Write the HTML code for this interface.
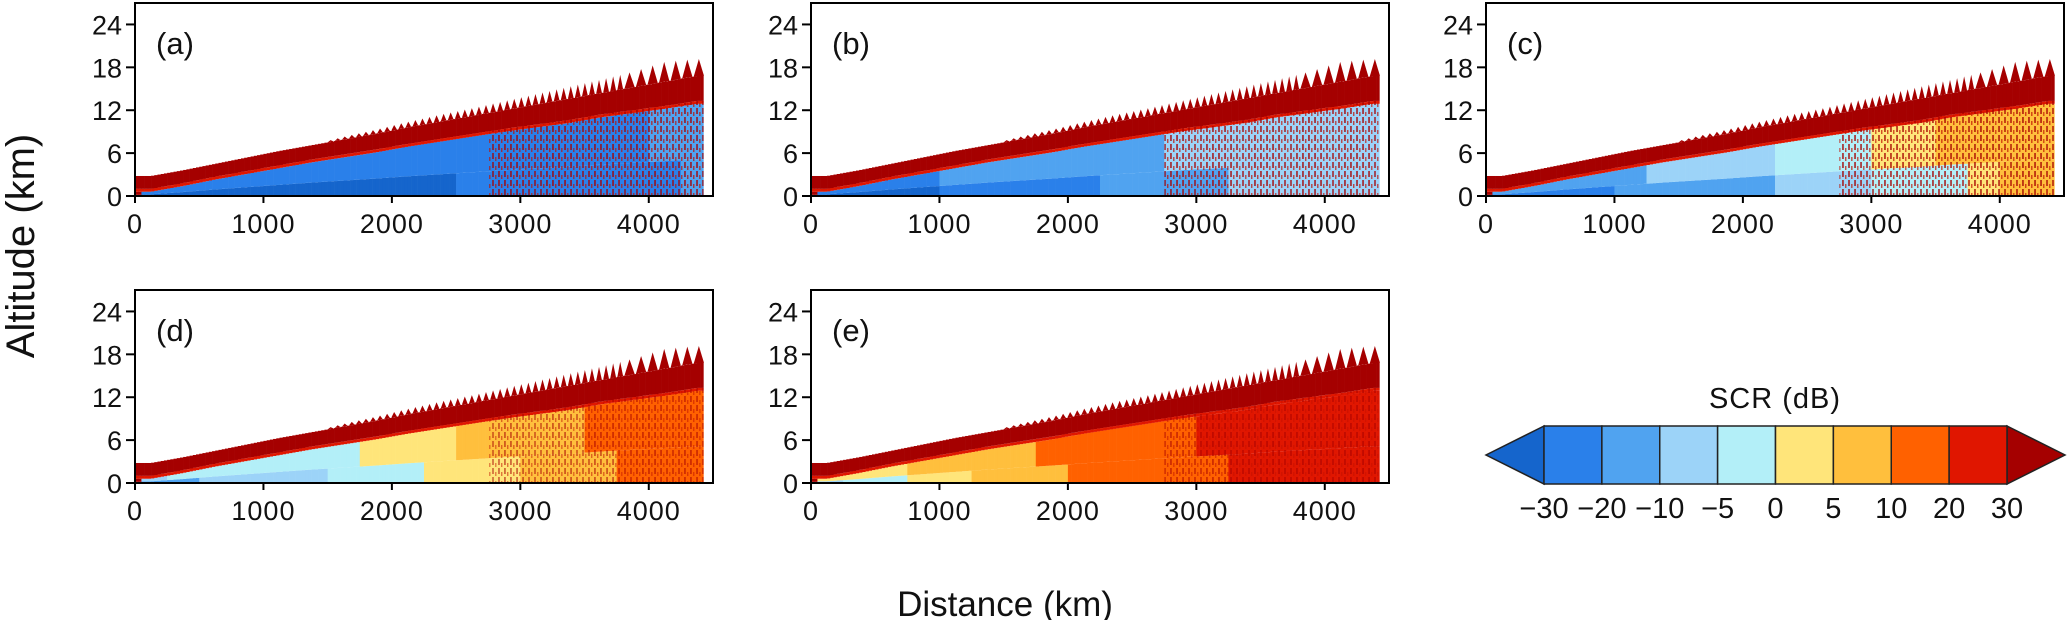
<!DOCTYPE html>
<html><head><meta charset="utf-8"><style>
html,body{margin:0;padding:0;background:#fff;}
svg{display:block;font-family:"Liberation Sans",sans-serif;}
</style></head><body>
<svg id="fig" width="2067" height="620" viewBox="0 0 2067 620" xmlns="http://www.w3.org/2000/svg">
<defs>
<pattern id="stripes" width="6" height="9" patternUnits="userSpaceOnUse">
<rect x="0" y="0" width="2" height="6" fill="#a50000"/>
<rect x="3" y="4" width="1.5" height="4" fill="#c01000"/>
</pattern>
</defs>
<text transform="translate(34,246) rotate(-90)" text-anchor="middle" font-size="40" fill="#111">Altitude (km)</text>
<text x="1005" y="616" text-anchor="middle" font-size="35" fill="#111">Distance (km)</text>
</svg>
<script>
// ---- data ----
const classColors = ["#1565cc","#2a80ea","#50a3f0","#9cd3f8","#b3eff8","#ffe57a","#ffbf3d","#ff6100","#e01600","#a50000"];
const cbLabels = ["\u221230","\u221220","\u221210","\u22125","0","5","10","20","30"];
const xTicks = [0,1000,2000,3000,4000];
const yTicks = [0,6,12,18,24];
const binKm = 250;
const topKm = [2.8,3.6,4.5,5.4,6.3,7.1,7.9,8.7,9.6,10.4,11.2,12.0,12.8,13.6,14.4,15.2,16.0,16.8];
const redKm = [1.8,1.8,1.8,1.9,2.0,2.0,2.1,2.2,2.3,2.4,2.5,2.6,2.8,3.0,3.0,3.2,3.4,3.5];
const spikeKm = [0,0,0,0,0,0,0.4,0.6,0.8,1.0,1.1,1.3,1.5,1.7,1.9,2.2,2.8,2.4];
const panelLabels = ["(a)","(b)","(c)","(d)","(e)"];
const lowA = [0,0,0,0,0,0,0,0,0,0,1,1,1,1,1,1,1,2];
const upA  = [1,1,1,1,1,1,1,1,1,1,1,1,1,1,1,1,2,2];
const lowB = [0,0,0,0,1,1,1,1,1,2,2,2,2,3,3,3,3,3];
const upB  = [1,1,1,1,2,2,2,2,2,2,2,3,3,3,3,3,3,3];
const lowC = [1,1,1,1,2,2,2,2,2,3,3,3,4,4,4,5,6,6];
const upC  = [2,2,2,2,2,3,3,3,3,4,4,4,5,5,6,6,6,6];
const lowD = [2,2,3,3,3,3,4,4,4,5,5,5,6,6,6,7,7,7];
const upD  = [3,4,4,4,4,4,4,5,5,5,6,6,6,6,7,7,7,7];
const lowE = [3,4,4,5,5,6,6,6,7,7,7,7,7,8,8,8,8,8];
const upE  = [5,5,5,6,6,6,6,7,7,7,7,7,8,8,8,8,8,8];
const lows = [lowA,lowB,lowC,lowD,lowE];
const ups = [upA,upB,upC,upD,upE];
const xMaxKm = 4500, yMaxKm = 27, dataEndKm = 4425, stripeStartKm = 2750;

const NS = "http://www.w3.org/2000/svg";
const svg = document.getElementById("fig");
function mk(tag, attrs, parent){
  const e = document.createElementNS(NS, tag);
  for (const k in attrs) e.setAttribute(k, attrs[k]);
  (parent||svg).appendChild(e); return e;
}
const PW = 578, PH = 193;
const panelPos = [[135,3],[811,3],[1486,3],[135,290],[811,290]];

function interp(arr, km){
  const f = km/binKm - 0.5;
  const i = Math.max(0, Math.min(arr.length-1, Math.floor(f)));
  const j = Math.min(arr.length-1, i+1);
  const t = Math.max(0, Math.min(1, f - i));
  return arr[i]*(1-t) + arr[j]*t;
}

panelPos.forEach((pp, p) => {
  const L = pp[0], T = pp[1], B = T + PH;
  const X = km => L + km/xMaxKm*PW;
  const Y = km => B - km/yMaxKm*PH;
  const g = mk("g", {});
  
  
  const cid = "clip"+p;
  const cp = mk("clipPath", {id: cid}, g);
  mk("rect", {x: L, y: T, width: PW, height: PH}, cp);
  const field = mk("g", {"clip-path": "url(#"+cid+")"}, g);
  
  
  const step = 25;
  const stripePts = [];
  for (let km = 0; km < dataEndKm; km += step){
    const bin = Math.min(17, Math.floor(km/binKm));
    const t = interp(topKm, km+step/2);
    const r = interp(redKm, km+step/2);
    const x0 = X(km), w = X(km+step) - x0 + 0.3;
    const trans = t - r - 0.4;
    const lowB = 0.4*trans;
    const low = km < 50 ? 9 : lows[p][bin];
    const up = km < 50 ? 9 : ups[p][bin];
    const layers = [[0, Math.max(0,lowB), low],[lowB, trans, up],[trans, t-r, 8],[t-r, t, 9]];
    layers.forEach(Ly => {
      if (Ly[1] <= Ly[0]) return;
      const c = mk("rect", {x: x0.toFixed(2), y: Y(Ly[1]).toFixed(2), width: w.toFixed(2), height: (Y(Ly[0])-Y(Ly[1])).toFixed(2), fill: classColors[Ly[2]]}, field);
      
      
    });
    if (km >= stripeStartKm) stripePts.push([x0, w, Y(t-r)]);
  }
  stripePts.forEach(s => {
    const sr = mk("rect", {x: s[0].toFixed(2), y: s[2].toFixed(2), width: s[1].toFixed(2), height: (B - s[2]).toFixed(2), fill: "url(#stripes)", opacity: p<3 ? 0.65 : 0.45}, field);
    
    
  });
  for (let km = 1500; km < dataEndKm - 60; km += (km > 3800 ? 90 : 55)){
    const wkm = km > 3800 ? 80 : 45;
    const t0 = interp(topKm, km), t1 = interp(topKm, km+wkm);
    const h = interp(spikeKm, km + wkm/2);
    const sp = mk("polygon", {points: `${X(km)},${Y(t0)} ${X(km+wkm/2)},${Y((t0+t1)/2+h)} ${X(km+wkm)},${Y(t1)}`, fill: "#a50000"}, field);
    
    
  }
  const fr = mk("rect", {x: L, y: T, width: PW, height: PH, fill: "none", stroke: "#000", "stroke-width": 2}, g);
  
  
  xTicks.forEach(v => {
    const tk = mk("line", {x1: X(v), x2: X(v), y1: B, y2: B+7, stroke: "#000", "stroke-width": 2}, g);
    
    
    const tl = mk("text", {x: X(v), y: B+37, "text-anchor": "middle", "font-size": 27, "letter-spacing": 1, fill: "#111"}, g);
    
    
    tl.textContent = v;
  });
  yTicks.forEach(v => {
    const tk = mk("line", {x1: L-9, x2: L, y1: Y(v), y2: Y(v), stroke: "#000", "stroke-width": 2}, g);
    
    
    const tl = mk("text", {x: L-13, y: Y(v)+10, "text-anchor": "end", "font-size": 27, fill: "#111"}, g);
    
    
    tl.textContent = v;
  });
  const pl = mk("text", {x: L+21, y: T+51, "font-size": 31, fill: "#111"}, g);
  
  
  pl.textContent = panelLabels[p];
});

// ---- colorbar ----
const cb = mk("g", {});


const cbL = 1544, cbR = 2007, cbT = 426, cbB = 484, tipL = 1486, tipR = 2065;
const bw = (cbR - cbL) / (classColors.length - 2);
const la = mk("polygon", {points: `${cbL},${cbT} ${tipL},${(cbT+cbB)/2} ${cbL},${cbB}`, fill: classColors[0], stroke: "#222", "stroke-width": 1.5}, cb);


const ra = mk("polygon", {points: `${cbR},${cbT} ${tipR},${(cbT+cbB)/2} ${cbR},${cbB}`, fill: classColors[9], stroke: "#222", "stroke-width": 1.5}, cb);


for (let i = 1; i <= 8; i++){
  const r = mk("rect", {x: cbL + (i-1)*bw, y: cbT, width: bw, height: cbB-cbT, fill: classColors[i], stroke: "#222", "stroke-width": 1.5}, cb);
  
  
}
cbLabels.forEach((s, i) => {
  const t = mk("text", {x: cbL + i*bw, y: 518, "text-anchor": "middle", "font-size": 29, fill: "#111"}, cb);
  
  
  t.textContent = s;
});
const ct = mk("text", {x: 1775, y: 408, "text-anchor": "middle", "font-size": 29, "letter-spacing": 1, fill: "#111"}, cb);


ct.textContent = "SCR  (dB)";
</script>
</body></html>
